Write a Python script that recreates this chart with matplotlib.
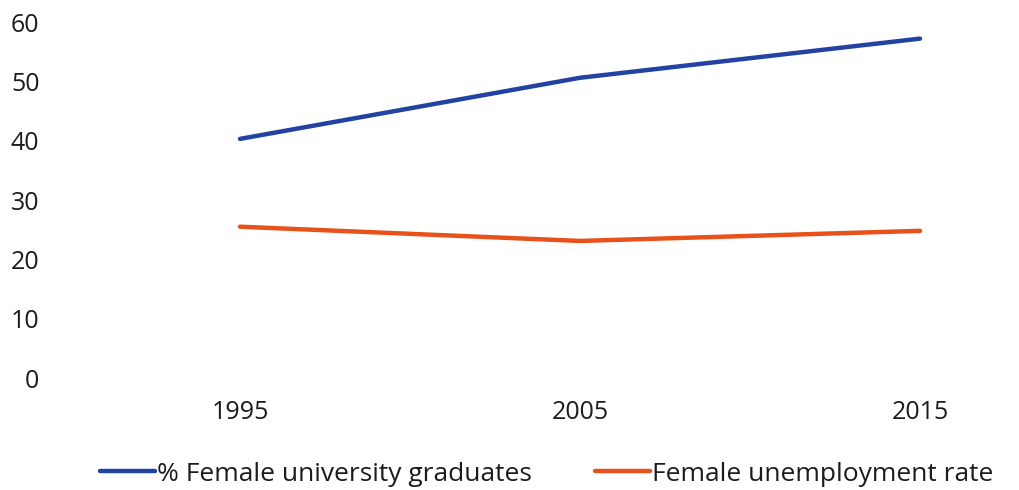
import matplotlib
matplotlib.use('Agg')
import matplotlib.pyplot as plt

plt.rcParams['font.family'] = ['Open Sans', 'DejaVu Sans']

years = ['1995', '2005', '2015']
graduates = [40.3, 50.6, 57.2]
unemployment = [25.5, 23.1, 24.8]
yticks = [0, 10, 20, 30, 40, 50, 60]

fig = plt.figure(figsize=(10.2, 4.9), dpi=100)
ax = fig.add_axes([70/1020, 1 - 378/490, 1 - 70/1020, 356/490])

x = range(len(years))
ax.plot(x, graduates, color='#2343a3', lw=3.2, solid_capstyle='round',
        label='% Female university graduates')
ax.plot(x, unemployment, color='#e8501c', lw=3.2, solid_capstyle='round',
        label='Female unemployment rate')

ax.set_xlim(-0.5, (1020 - 240) / 340)
ax.set_ylim(0, 60)
ax.set_xticks(list(x))
ax.set_xticklabels(years)
ax.set_yticks(yticks)
for s in ax.spines.values():
    s.set_visible(False)
ax.tick_params(length=0, labelsize=18, colors='#1c1c1c')
ax.tick_params(axis='y', pad=22)
ax.tick_params(axis='x', pad=16)

fig.legend(loc='center left', bbox_to_anchor=(100/1020, 1 - 474/490),
           ncol=2, frameon=False, fontsize=19, handlelength=2.1,
           handletextpad=0.05, columnspacing=2.4, borderaxespad=0,
           borderpad=0, labelcolor='#1c1c1c')

fig.savefig('out.png', dpi=100)
